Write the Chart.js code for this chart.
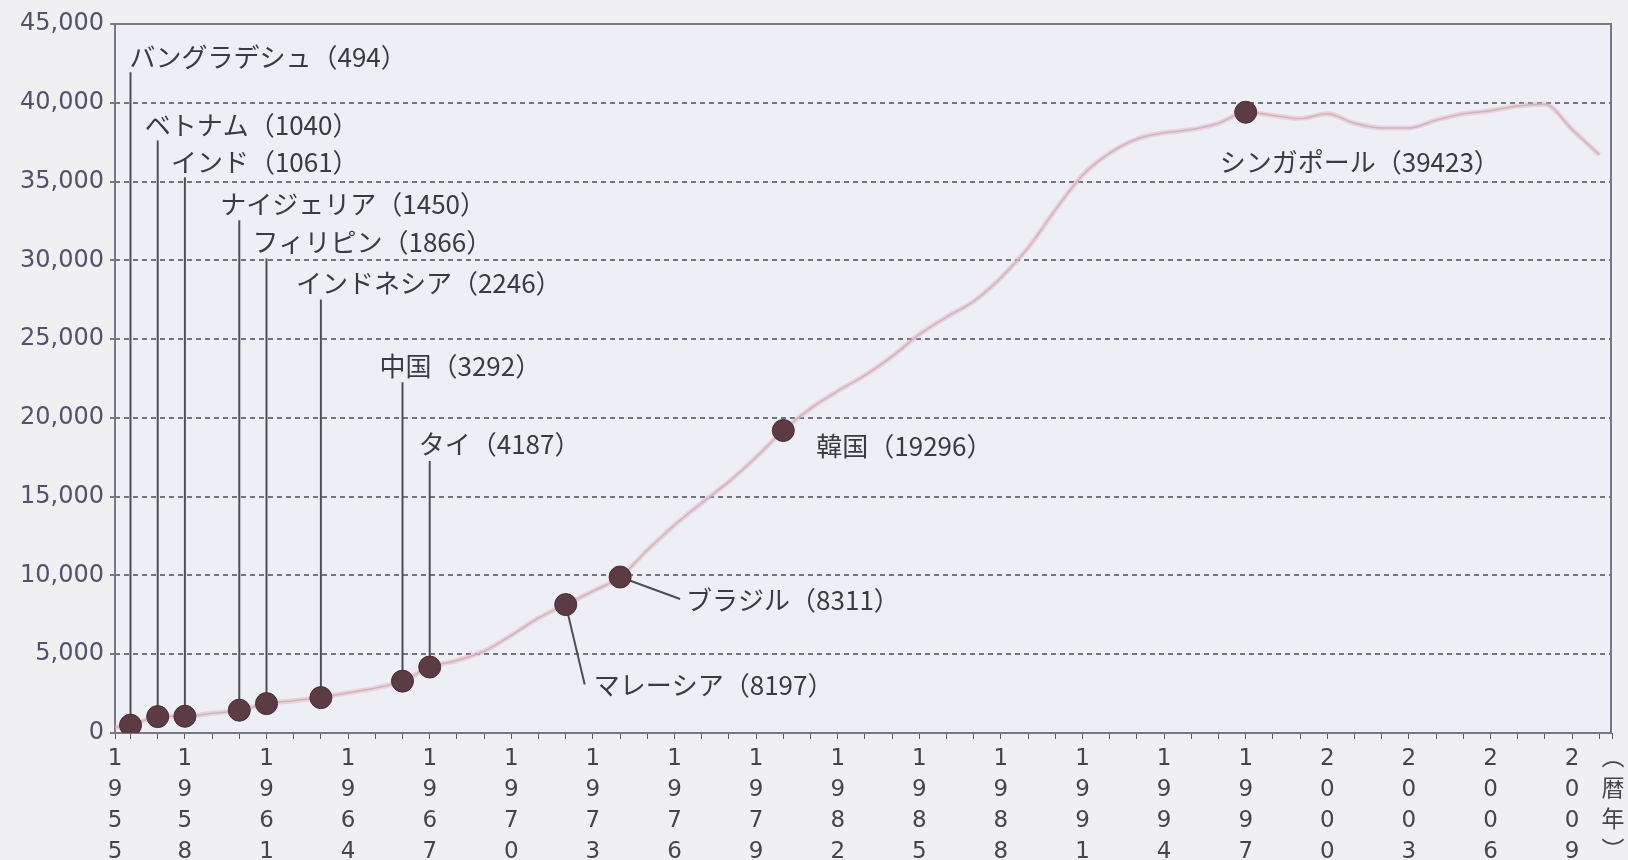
<!DOCTYPE html>
<html lang="ja">
<head>
<meta charset="utf-8">
<title>日本の一人当たりGDPの推移</title>
<script src="https://cdn.jsdelivr.net/npm/chart.js@4.4.1/dist/chart.umd.min.js"></script>
<style>
html, body { margin: 0; padding: 0; background: #f0f0f2; }
#wrap { width: 1628px; height: 860px; position: relative; }
</style>
</head>
<body>
<div id="wrap"><canvas id="gdpChart"></canvas></div>
<script>
const years = [
	1955, 1956, 1957, 1958, 1959, 1960, 1961, 1962, 1963, 1964,
	1965, 1966, 1967, 1968, 1969, 1970, 1971, 1972, 1973, 1974,
	1975, 1976, 1977, 1978, 1979, 1980, 1981, 1982, 1983, 1984,
	1985, 1986, 1987, 1988, 1989, 1990, 1991, 1992, 1993, 1994,
	1995, 1996, 1997, 1998, 1999, 2000, 2001, 2002, 2003, 2004,
	2005, 2006, 2007, 2008, 2009, 2010,
]
const japanGdp = [
	300, 494, 1040, 1061, 1250, 1450, 1866, 2050, 2246, 2550,
	2850, 3292, 4187, 4600, 5200, 6200, 7300, 8150, 9000, 9900,
	11600, 13200, 14600, 15950, 17500, 19200, 20600, 21700, 22700, 23900,
	25300, 26400, 27400, 28900, 30800, 33200, 35400, 36800, 37700, 38100,
	38300, 38700, 39400, 39200, 39000, 39300, 38700, 38400, 38400, 38900,
	39300, 39500, 39800, 39900, 38300, 36700,
]
const countries = [
	'バングラデシュ', 'ベトナム', 'インド', 'ナイジェリア', 'フィリピン', 'インドネシア',
	'中国', 'タイ', 'マレーシア', 'ブラジル', '韓国', 'シンガポール',
]
const countryGdp = [494, 1040, 1061, 1450, 1866, 2246, 3292, 4187, 8197, 8311, 19296, 39423]
const matchYears = [1956, 1957, 1958, 1960, 1961, 1963, 1966, 1967, 1972, 1974, 1980, 1997]
const unitLabel = ['︵', '暦', '年', '︶']

// label placement: offsets in px from each dot
const labelOffsets = [
	[-1, -668], [-13, -591], [-14, -554], [-19, -506], [-14, -461], [-25, -414],
	[-23, -315], [-11, -223], [28, 81], [66, 23], [33, 16], [-26, 50],
]
const leaderEnds = [
	[0, -653], [0, -576], [0, -539], [0, -490], [0, -445], [0, -398],
	[0, -299], [0, -206], [19, 80], [60, 22], null, null,
]

const plotBg = {
	id: 'plotBg',
	beforeDraw(chart) {
		const { ctx, chartArea: a } = chart
		ctx.save()
		ctx.fillStyle = '#eeeef5'
		ctx.fillRect(a.left, a.top, a.right - a.left, a.bottom - a.top)
		ctx.restore()
	},
	beforeDatasetsDraw(chart) {
		const { ctx, chartArea: a } = chart
		ctx.save()
		ctx.strokeStyle = '#777786'
		ctx.lineWidth = 2
		ctx.strokeRect(a.left, a.top, a.right - a.left, a.bottom - a.top)
		// leader lines
		const dots = chart.getDatasetMeta(0).data
		ctx.strokeStyle = '#4e4e56'
		ctx.lineWidth = 2
		dots.forEach((pt, i) => {
			const end = leaderEnds[i]
			if (!end) return
			ctx.beginPath()
			ctx.moveTo(pt.x, pt.y)
			ctx.lineTo(pt.x + end[0], pt.y + end[1])
			ctx.stroke()
		})
		ctx.restore()
	},
}

const countryLabels = {
	id: 'countryLabels',
	afterDatasetsDraw(chart) {
		const { ctx } = chart
		const dots = chart.getDatasetMeta(0).data
		ctx.save()
		ctx.font = '26px "Noto Sans CJK JP"'
		ctx.fillStyle = '#3a3a44'
		ctx.textAlign = 'left'
		ctx.textBaseline = 'middle'
		dots.forEach((pt, i) => {
			const off = labelOffsets[i]
			ctx.fillText(countries[i] + '（' + countryGdp[i] + '）', pt.x + off[0], pt.y + off[1])
		})
		ctx.restore()
	},
}

const ctx1 = document.getElementById('gdpChart')

const gdpChart = new Chart(ctx1, {
	type: 'line',
	data: {
		datasets: [
			{
				type: 'scatter',
				label: '各国の水準',
				data: matchYears.map((yr) => ({ x: yr, y: japanGdp[years.indexOf(yr)] })),
				pointRadius: 11,
				pointBackgroundColor: '#5c3b45',
				pointBorderColor: '#482c35',
				pointBorderWidth: 1,
				order: 0,
			},
			{
				label: '日本',
				data: years.map((yr, i) => ({ x: yr, y: japanGdp[i] })),
				borderColor: '#c2babe',
				borderWidth: 1.5,
				pointRadius: 0,
				cubicInterpolationMode: 'monotone',
				order: 1,
			},
			{
				label: '日本',
				data: years.map((yr, i) => ({ x: yr, y: japanGdp[i] })),
				borderColor: 'rgba(240, 168, 184, 0.45)',
				borderWidth: 5,
				pointRadius: 0,
				cubicInterpolationMode: 'monotone',
				order: 2,
			},
		],
	},
	options: {
		responsive: true,
		maintainAspectRatio: false,
		animation: false,
		layout: { padding: { top: 24, right: 17, bottom: 0, left: 0 } },
		plugins: {
			legend: { display: false },
			tooltip: { enabled: false },
		},
		scales: {
			x: {
				type: 'linear',
				min: 1955.43,
				max: 2010.43,
				afterBuildTicks: (scale) => {
					// first year sits just outside the axis range, so pin it to the left edge
					scale.ticks = years
						.map((yr, i) => ({ value: i === 0 ? Math.max(yr, scale.min) : yr }))
						.concat([{ value: years[years.length - 1] + 0.5 }])
				},
				afterFit: (scale) => {
					scale.height = 127
					scale.paddingLeft = 0
					scale.paddingRight = 0
				},
				grid: {
					drawOnChartArea: false,
					drawTicks: true,
					tickLength: 6,
					color: '#5a5a68',
				},
				border: { display: false },
				ticks: {
					autoSkip: false,
					maxRotation: 0,
					minRotation: 0,
					padding: 4,
					color: '#44444c',
					font: { family: '"DejaVu Sans", "Noto Sans CJK JP"', size: 23, lineHeight: 1.36 },
					callback: (v, i) => {
						if (i >= years.length) return unitLabel
						if ((years[i] - years[0]) % 3 === 0) return String(years[i]).split('')
						return ''
					},
				},
			},
			y: {
				min: 0,
				max: 45000,
				afterFit: (scale) => {
					scale.width = 115
				},
				grid: {
					color: (c) => (c.tick && (c.tick.value === 0 || c.tick.value === 45000) ? 'rgba(0,0,0,0)' : '#737385'),
					lineWidth: 2,
					drawTicks: true,
					tickLength: 5,
					tickColor: '#777786',
				},
				border: { display: false, dash: [5, 4] },
				ticks: {
					stepSize: 5000,
					padding: 6,
					color: '#52526c',
					font: { family: '"DejaVu Sans"', size: 24 },
					callback: (v) => v.toLocaleString('en-US'),
				},
			},
		},
	},
	plugins: [plotBg, countryLabels],
})
</script>
</body>
</html>
